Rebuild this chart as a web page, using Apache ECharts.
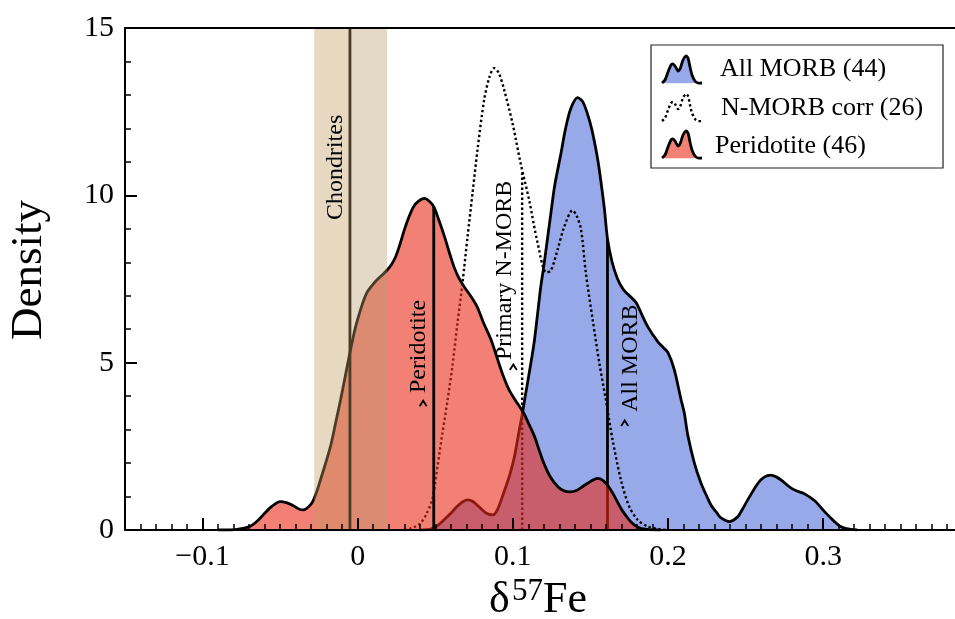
<!DOCTYPE html>
<html>
<head>
<meta charset="utf-8">
<script src="https://cdn.jsdelivr.net/npm/echarts@6/dist/echarts.min.js"></script>
<style>
  html, body { margin: 0; padding: 0; background: #fff; }
  #main { width: 955px; height: 619px; }
</style>
</head>
<body>
<div id="main"></div>
<script>
// Kernel density estimates of d57Fe, [d57Fe, density]
const peridotite = [
  [-0.090, 0], [-0.082, 0.0], [-0.075, 0.04], [-0.069, 0.12], [-0.064, 0.3], [-0.060, 0.5],
  [-0.055, 0.72], [-0.050, 0.85], [-0.046, 0.82], [-0.042, 0.74], [-0.038, 0.63], [-0.035, 0.6],
  [-0.032, 0.68], [-0.029, 0.85], [-0.026, 1.2], [-0.024, 1.5], [-0.020, 2.1], [-0.017, 2.6],
  [-0.014, 3.25], [-0.011, 3.9], [-0.008, 4.6], [-0.005, 5.3], [-0.002, 5.95], [0.000, 6.3],
  [0.003, 6.75], [0.006, 7.1], [0.010, 7.35], [0.013, 7.5], [0.016, 7.63], [0.019, 7.77],
  [0.022, 7.95], [0.0245, 8.17], [0.027, 8.5], [0.030, 8.96], [0.033, 9.35], [0.036, 9.66],
  [0.039, 9.82], [0.043, 9.91], [0.046, 9.83], [0.049, 9.66], [0.052, 9.3], [0.056, 8.76],
  [0.059, 8.3], [0.062, 7.87], [0.065, 7.55], [0.0686, 7.27], [0.073, 6.98], [0.077, 6.67],
  [0.081, 6.2], [0.086, 5.68], [0.090, 5.12], [0.094, 4.58], [0.098, 4.15], [0.103, 3.78],
  [0.107, 3.49], [0.110, 3.2], [0.114, 2.79], [0.117, 2.38], [0.120, 1.99], [0.124, 1.6],
  [0.129, 1.29], [0.133, 1.17], [0.137, 1.14], [0.141, 1.18], [0.145, 1.3], [0.148, 1.39],
  [0.152, 1.5], [0.155, 1.54], [0.158, 1.48], [0.161, 1.34], [0.165, 1.05], [0.170, 0.62],
  [0.173, 0.42], [0.176, 0.25], [0.180, 0.1], [0.183, 0.04], [0.188, 0.01], [0.195, 0]
];

const allMorb = [
  [0.040, 0], [0.046, 0.02], [0.049, 0.06], [0.052, 0.15], [0.056, 0.32], [0.060, 0.5],
  [0.064, 0.7], [0.068, 0.85], [0.0708, 0.9], [0.074, 0.86], [0.079, 0.66], [0.083, 0.5],
  [0.087, 0.45], [0.090, 0.6], [0.094, 1.1], [0.098, 1.65], [0.101, 2.19], [0.104, 2.95],
  [0.106, 3.44], [0.108, 4.0], [0.1116, 4.98], [0.114, 5.7], [0.118, 7.27], [0.120, 7.9],
  [0.1245, 9.46], [0.127, 10.3], [0.131, 11.25], [0.134, 12.0], [0.1374, 12.6], [0.1417, 12.92],
  [0.145, 12.8], [0.148, 12.45], [0.151, 11.95], [0.1546, 11.1], [0.1568, 10.4], [0.159, 9.6],
  [0.161, 8.7], [0.164, 8.0], [0.1675, 7.5], [0.171, 7.2], [0.174, 7.05], [0.1794, 6.8],
  [0.183, 6.45], [0.187, 6.07], [0.1934, 5.63], [0.197, 5.45], [0.200, 5.3], [0.204, 4.8],
  [0.2084, 3.9], [0.2105, 3.5], [0.2127, 2.85], [0.217, 2.0], [0.2213, 1.4], [0.2256, 0.95],
  [0.2277, 0.75], [0.232, 0.48], [0.2342, 0.36], [0.2396, 0.25], [0.245, 0.40], [0.248, 0.62],
  [0.2514, 0.90], [0.2579, 1.39], [0.262, 1.58], [0.2665, 1.64], [0.270, 1.58], [0.273, 1.49],
  [0.2794, 1.25], [0.284, 1.15], [0.288, 1.08], [0.2944, 0.88], [0.3009, 0.55], [0.3073, 0.25],
  [0.3106, 0.12], [0.315, 0.04], [0.322, 0]
];

const nMorbCorr = [
  [0.030, 0], [0.034, 0.05], [0.038, 0.12], [0.0406, 0.2], [0.044, 0.45], [0.048, 0.9],
  [0.0514, 1.89], [0.0546, 2.89], [0.0579, 3.88], [0.061, 4.88], [0.0643, 6.18], [0.0675, 7.37],
  [0.0708, 8.76], [0.074, 10.06], [0.0772, 11.35], [0.0815, 12.85], [0.085, 13.55], [0.088, 13.8],
  [0.091, 13.65], [0.0944, 13.15], [0.0998, 12.15], [0.105, 10.96], [0.1105, 9.86], [0.116, 8.57],
  [0.1215, 7.7], [0.1245, 7.75], [0.1288, 8.37], [0.1331, 9.06], [0.1385, 9.55], [0.141, 9.4],
  [0.1439, 9.0], [0.147, 7.7], [0.1514, 6.3], [0.1557, 5.0], [0.160, 3.88], [0.1643, 2.69],
  [0.1697, 1.49], [0.175, 0.70], [0.1805, 0.30], [0.187, 0.1], [0.195, 0.02], [0.200, 0]
];

// Reference compositions (d57Fe)
const chondriteMean = -0.005;
const chondriteRange = [-0.028, 0.019];
const peridotiteMean = 0.049;
const primaryNMorbMean = 0.106;
const allMorbMean = 0.161;

// Axis ticks
const xMajorTicks = [-0.1, 0, 0.1, 0.2, 0.3];
const yMajorTicks = [0, 5, 10, 15];
const legendLabels = ['All MORB (44)', 'N-MORB corr (26)', 'Peridotite (46)'];

const xMin = -0.15, xMax = 0.385;
const xMinorTicks = [];
for (let i = -15; i <= 38; i++) xMinorTicks.push(i / 100);

const SERIF = "'Liberation Serif', 'Times New Roman', Times, serif";
const BLUE = '#97a9e8';
const RED = 'rgba(233, 43, 23, 0.6)';
const BAND = 'rgba(192, 154, 98, 0.39)';
const DOTS = [2.4, 2.6];
const LW = 2.8;

// Density of a curve at x, used to stop the mean lines on the curve
function densityAt(curve, x) {
  for (let i = 1; i < curve.length; i++) {
    const a = curve[i - 1], b = curve[i];
    if (x >= a[0] && x <= b[0]) {
      return a[1] + (b[1] - a[1]) * (x - a[0]) / (b[0] - a[0]);
    }
  }
  return 0;
}

function vline(x, top, style, z) {
  return {
    type: 'line', data: [[x, 0], [x, top]], symbol: 'none', silent: true,
    lineStyle: style, z: z, animation: false
  };
}

const chart = echarts.init(document.getElementById('main'));

const option = {
  backgroundColor: '#fff',
  animation: false,
  grid: [
    { left: 125, right: 0, top: 28, bottom: 89 },
    { left: 125, right: 0, top: 28, bottom: 89 }
  ],
  xAxis: [
    {
      type: 'value', gridIndex: 0, min: xMin, max: xMax, position: 'bottom', z: 10,
      axisLine: { show: true, onZero: false, lineStyle: { color: '#000', width: 2 } },
      axisTick: { show: true, inside: true, length: 12, customValues: xMajorTicks,
                  lineStyle: { color: '#000', width: 2 } },
      axisLabel: { show: true, customValues: xMajorTicks, margin: 12, color: '#000',
                   fontFamily: SERIF, fontSize: 30,
                   formatter: v => (v < 0 ? '\u2212' + Math.abs(v) : String(v)) },
      splitLine: { show: false }
    },
    {
      type: 'value', gridIndex: 0, min: xMin, max: xMax, position: 'top', z: 10,
      axisLine: { show: true, onZero: false, lineStyle: { color: '#000', width: 2 } },
      axisTick: { show: false }, axisLabel: { show: false }, splitLine: { show: false }
    },
    {
      type: 'value', gridIndex: 1, min: xMin, max: xMax, position: 'bottom', z: 10,
      axisLine: { show: false, onZero: false },
      axisTick: { show: true, inside: true, length: 6, customValues: xMinorTicks,
                  lineStyle: { color: '#000', width: 1.5 } },
      axisLabel: { show: false }, splitLine: { show: false }
    }
  ],
  yAxis: [
    {
      type: 'value', gridIndex: 0, min: 0, max: 15, interval: 5, position: 'left', z: 10,
      axisLine: { show: true, onZero: false, lineStyle: { color: '#000', width: 2 } },
      axisTick: { show: true, inside: true, length: 12, lineStyle: { color: '#000', width: 2 } },
      minorTick: { show: true, splitNumber: 5, length: 6, lineStyle: { color: '#000', width: 1.5 } },
      axisLabel: { margin: 11, color: '#000', fontFamily: SERIF, fontSize: 30,
                   customValues: yMajorTicks },
      splitLine: { show: false }, minorSplitLine: { show: false }
    },
    { type: 'value', gridIndex: 1, min: 0, max: 15, show: false }
  ],
  series: [
    {
      name: 'All MORB', type: 'line', data: allMorb, smooth: 0.3, symbol: 'none',
      lineStyle: { color: '#000', width: LW }, areaStyle: { color: BLUE, opacity: 1 }, z: 2
    },
    {
      name: 'N-MORB corr', type: 'line', data: nMorbCorr, smooth: 0.3, symbol: 'none',
      lineStyle: { color: '#000', width: 2.4, type: DOTS }, z: 3
    },
    vline(allMorbMean, densityAt(allMorb, allMorbMean), { color: '#000', width: LW }, 3),
    vline(primaryNMorbMean, densityAt(nMorbCorr, primaryNMorbMean),
          { color: '#000', width: 2.4, type: DOTS }, 3),
    {
      name: 'Peridotite', type: 'line', data: peridotite, smooth: 0.3, symbol: 'none',
      lineStyle: { color: '#000', width: LW }, areaStyle: { color: RED, opacity: 1 }, z: 4
    },
    vline(peridotiteMean, densityAt(peridotite, peridotiteMean), { color: '#000', width: LW }, 5),
    vline(chondriteMean, 15, { color: '#000', width: LW }, 5),
    {
      name: 'Chondrites', type: 'line', data: [], z: 8,
      markArea: {
        silent: true, z: 8,
        itemStyle: { color: BAND },
        data: [
          [{ xAxis: chondriteRange[0] }, { xAxis: chondriteMean }],
          [{ xAxis: chondriteMean, itemStyle: { color: 'rgba(186, 158, 112, 0.39)' } },
           { xAxis: chondriteRange[1] }]
        ]
      }
    }
  ]
};
chart.setOption(option);

// Annotations, axis titles and legend
function px(x, y) { return chart.convertToPixel({ xAxisIndex: 0, yAxisIndex: 0 }, [x, y]); }

function vtext(text, x, y, size) {
  const p = px(x, y);
  return {
    type: 'text', x: p[0], y: p[1], rotation: Math.PI / 2, z: 100,
    style: { text: text, fill: '#000', font: size + 'px ' + SERIF,
             align: 'left', verticalAlign: 'middle' }
  };
}
function caret(x, y) {
  const p = px(x, y);
  const cx = p[0], cy = p[1];
  return {
    type: 'polyline', z: 100,
    shape: { points: [[cx - 3.5, cy + 3], [cx, cy - 2.5], [cx + 3.5, cy + 3]] },
    style: { stroke: '#000', lineWidth: 1.8, fill: null }
  };
}

const graphics = [
  vtext('Chondrites', -0.0145, 9.26, 24),
  vtext('Peridotite', 0.039, 4.09, 24),
  caret(0.0422, 3.79),
  vtext('Primary N-MORB', 0.0945, 5.08, 24),
  caret(0.1003, 4.87),
  vtext('All MORB', 0.1757, 3.53, 24),
  caret(0.1721, 3.20),
  // axis titles
  {
    type: 'text', x: 29, y: 270, rotation: Math.PI / 2, z: 100,
    style: { text: 'Density', fill: '#000', font: '45px ' + SERIF, align: 'center', verticalAlign: 'middle' }
  },
  { type: 'text', x: 489, y: 600, z: 100,
    style: { text: '\u03b4', fill: '#000', font: '44px ' + SERIF, align: 'left', verticalAlign: 'middle' } },
  { type: 'text', x: 512, y: 592, z: 100,
    style: { text: '57', fill: '#000', font: '31px ' + SERIF, align: 'left', verticalAlign: 'middle' } },
  { type: 'text', x: 543, y: 600, z: 100,
    style: { text: 'Fe', fill: '#000', font: '44px ' + SERIF, align: 'left', verticalAlign: 'middle' } }
];

// Legend
const iconShape = [[0, 28], [3, 25], [6, 17], [9, 10], [11, 9], [13, 11], [16, 16], [18, 14],
                   [21, 5], [24, 1], [26, 3], [28, 12], [30, 20], [33, 26], [36, 28], [40, 28]];
const lx = 651, ly = 45;
graphics.push({
  type: 'rect', z: 100, shape: { x: lx, y: ly, width: 292, height: 123 },
  style: { fill: '#fff', stroke: '#222', lineWidth: 1.2 }
});
const rows = [
  { y: 55, fill: BLUE, dash: null, tx: 720, ty: 69 },
  { y: 93, fill: null, dash: DOTS, tx: 721, ty: 108 },
  { y: 130, fill: 'rgb(242,128,116)', dash: null, tx: 715, ty: 146 }
];
rows.forEach((r, i) => {
  const pts = iconShape.map(p => [662 + p[0], r.y + p[1]]);
  if (r.fill) {
    graphics.push({ type: 'polygon', z: 101, shape: { points: pts, smooth: 0.3 },
                    style: { fill: r.fill } });
  }
  graphics.push({ type: 'polyline', z: 102, shape: { points: pts, smooth: 0.3 },
                  style: { stroke: '#000', lineWidth: r.dash ? 2.4 : LW, lineDash: r.dash, fill: null } });
  graphics.push({ type: 'text', z: 102, x: r.tx, y: r.ty,
                  style: { text: legendLabels[i], fill: '#000', font: '26px ' + SERIF,
                           align: 'left', verticalAlign: 'middle' } });
});

chart.setOption({ graphic: graphics });
</script>
</body>
</html>
